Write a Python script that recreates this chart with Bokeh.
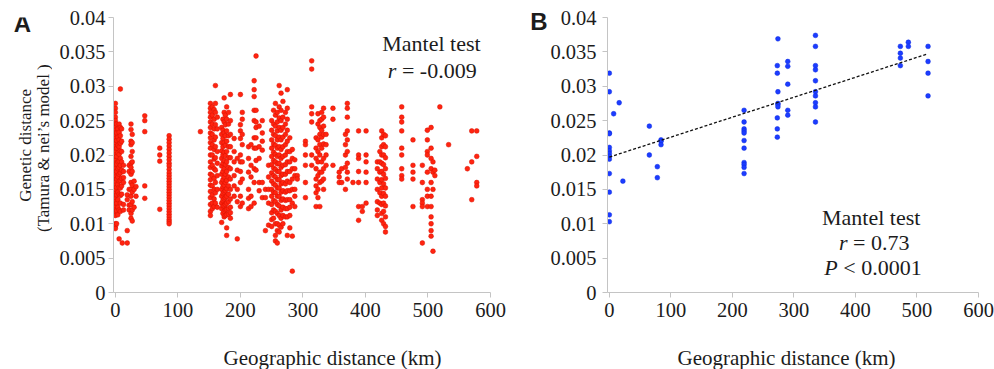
import math
from bokeh.plotting import figure
from bokeh.models import Range1d, FixedTicker, CustomJSTickFormatter, Label, LinearAxis
from bokeh.layouts import row, column
from bokeh.embed import file_html
from bokeh.resources import INLINE

# ---------------- data ----------------
x_ticks = [0, 100, 200, 300, 400, 500, 600]
y_ticks = [0, 0.005, 0.01, 0.015, 0.02, 0.025, 0.03, 0.035, 0.04]

# Panel A: geographic distance (km) columns and genetic distances in each column
a_km = [0, 2, 4, 6, 8, 10, 11, 13, 19, 22, 25, 27, 30, 33, 47, 71, 86, 136,
        152, 155, 158, 160, 163, 170, 172, 174, 176, 178, 181, 184, 190, 195, 200, 203,
        213, 217, 222, 225, 230, 235, 240, 245, 250, 253, 256, 259, 262, 265, 268, 272,
        275, 279, 283, 287, 291, 304, 314, 321, 324, 327, 330, 333, 337, 348, 358, 362,
        368, 371, 380, 389, 395, 401, 419, 423, 426, 429, 432, 458, 476, 491, 499, 505,
        508, 511, 519, 533, 563, 570, 578]
a_gd = [
    [0.0275, 0.0268, 0.0262, 0.0255, 0.0250, 0.0245, 0.0240, 0.0236, 0.0232, 0.0228, 0.0224, 0.0220,
     0.0216, 0.0212, 0.0208, 0.0204, 0.0200, 0.0196, 0.0192, 0.0188, 0.0184, 0.0180, 0.0176, 0.0172,
     0.0168, 0.0164, 0.0160, 0.0156, 0.0152, 0.0148, 0.0144, 0.0140, 0.0136, 0.0132, 0.0128, 0.0124,
     0.0120, 0.0116, 0.0112, 0.0100, 0.0096, 0.0093],
    [0.0245, 0.0232, 0.0221, 0.0210, 0.0198, 0.0187, 0.0176, 0.0165, 0.0153, 0.0142, 0.0130, 0.0119, 0.0100],
    [0.0238, 0.0226, 0.0214, 0.0203, 0.0190, 0.0180, 0.0168, 0.0157, 0.0146, 0.0135, 0.0124, 0.0113],
    [0.0245, 0.0233, 0.0222, 0.0212, 0.0201, 0.0191, 0.0182, 0.0172, 0.0162, 0.0153, 0.0143, 0.0120, 0.0078],
    [0.0296, 0.0240, 0.0228, 0.0217, 0.0206, 0.0195, 0.0185, 0.0174, 0.0163, 0.0152, 0.0141, 0.0130, 0.0118],
    [0.0238, 0.0220, 0.0205, 0.0190, 0.0178, 0.0166, 0.0155, 0.0143],
    [0.0072],
    [0.0185, 0.0176, 0.0167, 0.0160, 0.0128, 0.0120],
    [0.0142, 0.0135, 0.0090, 0.0072],
    [0.0185, 0.0176, 0.0150, 0.0127, 0.0120],
    [0.0245, 0.0237, 0.0220, 0.0215, 0.0198, 0.0188, 0.0182, 0.0172, 0.0160, 0.0150, 0.0140, 0.0128, 0.0115, 0.0108],
    [0.0230, 0.0218, 0.0205, 0.0190, 0.0176, 0.0156, 0.0146, 0.0132, 0.0120, 0.0104],
    [0.0162, 0.0150, 0.0124],
    [0.0154, 0.0140],
    [0.0257, 0.0250, 0.0234, 0.0155, 0.0137],
    [0.0210, 0.0200, 0.0191, 0.0121],
    [0.0228, 0.0223, 0.0218, 0.0213, 0.0208, 0.0203, 0.0198, 0.0193, 0.0188, 0.0184, 0.0179, 0.0174,
     0.0170, 0.0166, 0.0162, 0.0158, 0.0154, 0.0150, 0.0146, 0.0142, 0.0138, 0.0134, 0.0130, 0.0126,
     0.0122, 0.0118, 0.0114, 0.0110, 0.0106, 0.0103, 0.0100],
    [0.0234],
    [0.0275, 0.0268, 0.0262, 0.0255, 0.0248, 0.0240, 0.0232, 0.0225, 0.0218, 0.0210, 0.0200, 0.0190,
     0.0182, 0.0172, 0.0164, 0.0156, 0.0147, 0.0138, 0.0128, 0.0118, 0.0112],
    [0.0270, 0.0258, 0.0245, 0.0230, 0.0215, 0.0200, 0.0185, 0.0170, 0.0155, 0.0142, 0.0130, 0.0122],
    [0.0266, 0.0252, 0.0238, 0.0222, 0.0208, 0.0194, 0.0180, 0.0166, 0.0150, 0.0136, 0.0125],
    [0.0301, 0.0275, 0.0262, 0.0244, 0.0226, 0.0212, 0.0196, 0.0178, 0.0160, 0.0145, 0.0130],
    [0.0255, 0.0238, 0.0205, 0.0188, 0.0170, 0.0150, 0.0124],
    [0.0240, 0.0230, 0.0218, 0.0206, 0.0195, 0.0184, 0.0172, 0.0160, 0.0150, 0.0140, 0.0130, 0.0122, 0.0102],
    [0.0252, 0.0236, 0.0224, 0.0212, 0.0200, 0.0188, 0.0176, 0.0164, 0.0154, 0.0144, 0.0134, 0.0126, 0.0115],
    [0.0283, 0.0262, 0.0248, 0.0232, 0.0218, 0.0204, 0.0192, 0.0180, 0.0168, 0.0156, 0.0146, 0.0136,
     0.0126, 0.0118, 0.0110],
    [0.0258, 0.0244, 0.0228, 0.0214, 0.0199, 0.0186, 0.0172, 0.0160, 0.0148, 0.0138, 0.0128, 0.0120, 0.0112],
    [0.0270, 0.0252, 0.0235, 0.0220, 0.0205, 0.0190, 0.0176, 0.0163, 0.0151, 0.0140, 0.0130, 0.0121,
     0.0113, 0.0094, 0.0083],
    [0.0262, 0.0245, 0.0228, 0.0212, 0.0196, 0.0182, 0.0168, 0.0155, 0.0143, 0.0132, 0.0122, 0.0114],
    [0.0288, 0.0250, 0.0230, 0.0212, 0.0196, 0.0180, 0.0165, 0.0150, 0.0136, 0.0124, 0.0116, 0.0108],
    [0.0224, 0.0205, 0.0190, 0.0170, 0.0155, 0.0140],
    [0.0195, 0.0178, 0.0150, 0.0132, 0.0078],
    [0.0288, 0.0244, 0.0235, 0.0224, 0.0200, 0.0190, 0.0176, 0.0160, 0.0140, 0.0125],
    [0.0262, 0.0252, 0.0230, 0.0215, 0.0190, 0.0165, 0.0130],
    [0.0212, 0.0195, 0.0175, 0.0150, 0.0137, 0.0122],
    [0.0215, 0.0185, 0.0168, 0.0140, 0.0125],
    [0.0308, 0.0295, 0.0285, 0.0265, 0.0250, 0.0225, 0.0210, 0.0180, 0.0160, 0.0130],
    [0.0344, 0.0265, 0.0248, 0.0240, 0.0225, 0.0210, 0.0192, 0.0178],
    [0.0242, 0.0212, 0.0195, 0.0160, 0.0148],
    [0.0250, 0.0232, 0.0220, 0.0207, 0.0160, 0.0138],
    [0.0150, 0.0138, 0.0090],
    [0.0185, 0.0168, 0.0150, 0.0130, 0.0098],
    [0.0250, 0.0236, 0.0222, 0.0210, 0.0198, 0.0186, 0.0174, 0.0162, 0.0150, 0.0140, 0.0128, 0.0116, 0.0106, 0.0096],
    [0.0265, 0.0245, 0.0230, 0.0216, 0.0204, 0.0192, 0.0181, 0.0170, 0.0158, 0.0146, 0.0134, 0.0120, 0.0108],
    [0.0275, 0.0258, 0.0242, 0.0228, 0.0214, 0.0201, 0.0190, 0.0179, 0.0168, 0.0156, 0.0145, 0.0132,
     0.0118, 0.0100, 0.0083, 0.0075],
    [0.0262, 0.0248, 0.0235, 0.0222, 0.0210, 0.0198, 0.0187, 0.0176, 0.0164, 0.0152, 0.0140, 0.0128,
     0.0115, 0.0100, 0.0090, 0.0072],
    [0.0301, 0.0270, 0.0254, 0.0240, 0.0226, 0.0212, 0.0200, 0.0188, 0.0176, 0.0164, 0.0152, 0.0140,
     0.0126, 0.0112, 0.0098, 0.0088],
    [0.0290, 0.0265, 0.0250, 0.0236, 0.0222, 0.0208, 0.0195, 0.0182, 0.0170, 0.0158, 0.0146, 0.0134,
     0.0120, 0.0108, 0.0095],
    [0.0278, 0.0255, 0.0240, 0.0226, 0.0212, 0.0198, 0.0185, 0.0172, 0.0160, 0.0148, 0.0136, 0.0124, 0.0112, 0.0100],
    [0.0262, 0.0245, 0.0230, 0.0215, 0.0200, 0.0186, 0.0172, 0.0158, 0.0146, 0.0134, 0.0122, 0.0110],
    [0.0295, 0.0268, 0.0252, 0.0236, 0.0220, 0.0205, 0.0190, 0.0176, 0.0162, 0.0148, 0.0135, 0.0122, 0.0110, 0.0083],
    [0.0225, 0.0205, 0.0190, 0.0176, 0.0160, 0.0148, 0.0135, 0.0124, 0.0112, 0.0094],
    [0.0208, 0.0195, 0.0180, 0.0165, 0.0150, 0.0130, 0.0082, 0.0031],
    [0.0193, 0.0180, 0.0170, 0.0150, 0.0140, 0.0125],
    [0.0170, 0.0165],
    [0.0220, 0.0215, 0.0200, 0.0185, 0.0160, 0.0138],
    [0.0337, 0.0325, 0.0270, 0.0260, 0.0248, 0.0200, 0.0185],
    [0.0225, 0.0210, 0.0195, 0.0180, 0.0165, 0.0155, 0.0145, 0.0125],
    [0.0260, 0.0245, 0.0222, 0.0205, 0.0190, 0.0170, 0.0150, 0.0138],
    [0.0250, 0.0240, 0.0230, 0.0215, 0.0200, 0.0175, 0.0160, 0.0125],
    [0.0262, 0.0252, 0.0236, 0.0226, 0.0210, 0.0190, 0.0175, 0.0162],
    [0.0268, 0.0255, 0.0242, 0.0230, 0.0216, 0.0195, 0.0180, 0.0165, 0.0150],
    [0.0230, 0.0215, 0.0200, 0.0185],
    [0.0268, 0.0252, 0.0185],
    [0.0175, 0.0168, 0.0160],
    [0.0180, 0.0160],
    [0.0230, 0.0215, 0.0200, 0.0182, 0.0150],
    [0.0275, 0.0268, 0.0255, 0.0235, 0.0222, 0.0205, 0.0188, 0.0175, 0.0165],
    [0.0160],
    [0.0235, 0.0200, 0.0195, 0.0176, 0.0160, 0.0125, 0.0105],
    [0.0125, 0.0118],
    [0.0235, 0.0200, 0.0190, 0.0175, 0.0160, 0.0130],
    [0.0190, 0.0180, 0.0165, 0.0150, 0.0132, 0.0120, 0.0112],
    [0.0205, 0.0190, 0.0175, 0.0160, 0.0145, 0.0130],
    [0.0235, 0.0225, 0.0212, 0.0200, 0.0188, 0.0176, 0.0164, 0.0152, 0.0140, 0.0128, 0.0115, 0.0105],
    [0.0230, 0.0215, 0.0200, 0.0186, 0.0172, 0.0158, 0.0144, 0.0130, 0.0118, 0.0100],
    [0.0228, 0.0212, 0.0196, 0.0180, 0.0166, 0.0152, 0.0140, 0.0126, 0.0110, 0.0096, 0.0088],
    [0.0270, 0.0255, 0.0248, 0.0235, 0.0210, 0.0200, 0.0180, 0.0170, 0.0165],
    [0.0222, 0.0185, 0.0175, 0.0165, 0.0125],
    [0.0185, 0.0160, 0.0135, 0.0130, 0.0125, 0.0072],
    [0.0236, 0.0222, 0.0205, 0.0200, 0.0175, 0.0150, 0.0140, 0.0125],
    [0.0240, 0.0210, 0.0195, 0.0180, 0.0160, 0.0140, 0.0125, 0.0110, 0.0100, 0.0090, 0.0082],
    [0.0190, 0.0175, 0.0150, 0.0060],
    [0.0178, 0.0170],
    [0.0270],
    [0.0215],
    [0.0180],
    [0.0235, 0.0190, 0.0135],
    [0.0235, 0.0198, 0.0160, 0.0155],
]

# Panel B
b_km = [0, 0, 0, 0, 0, 0, 0, 0, 0, 0, 0, 0, 0,
        7, 16, 22, 65, 65, 78, 78, 84, 84, 84,
        219, 219, 219, 219, 219, 219, 219, 219, 219, 219, 219,
        273, 273, 273, 273, 273, 274, 274, 274, 274, 274,
        290, 290, 290, 290, 290,
        335, 335, 335, 335, 335, 335, 335, 335, 335, 335,
        473, 473, 473, 473, 486, 486, 518, 518, 518, 518]
b_gd = [0.0319, 0.0292, 0.0232, 0.0231, 0.0211, 0.0206, 0.0202, 0.0198, 0.0194, 0.0173, 0.0146, 0.0113, 0.0103,
        0.0260, 0.0276, 0.0162, 0.0242, 0.0200, 0.0183, 0.0167, 0.0222, 0.0220, 0.0215,
        0.0265, 0.0248, 0.0238, 0.0235, 0.0232, 0.0221, 0.0210, 0.0189, 0.0186, 0.0182, 0.0173,
        0.0330, 0.0319, 0.0254, 0.0238, 0.0226, 0.0369, 0.0292, 0.0275, 0.0273, 0.0270,
        0.0336, 0.0329, 0.0303, 0.0265, 0.0258,
        0.0374, 0.0358, 0.0330, 0.0324, 0.0308, 0.0292, 0.0286, 0.0276, 0.0270, 0.0248,
        0.0358, 0.0348, 0.0341, 0.0330, 0.0364, 0.0358, 0.0358, 0.0336, 0.0319, 0.0286]
b_fit_range = [0, 518]
b_fit_intercept = 0.0197
b_fit_slope = 0.0000290

SERIF = "Liberation Serif"
TXT = "#1c1c1c"
H = 339          # height of the panel row
HB = 30          # height of the strip that carries the x-axis titles
TOP, BOT = 17, H - 17 - 275


def make_fig(width, left, right, standoff):
    p = figure(width=width, height=H, x_range=Range1d(-3, 600), y_range=Range1d(0, 0.04),
               output_backend="svg", toolbar_location=None, title=None,
               min_border_left=left, min_border_right=right, min_border_top=TOP,
               min_border_bottom=BOT)
    p.outline_line_color = None
    p.xgrid.visible = False
    p.ygrid.visible = False
    for ax in (p.xaxis[0], p.yaxis[0]):
        ax.axis_line_color = "#c4c4c4"
        ax.major_tick_line_color = "#c4c4c4"
        ax.minor_tick_line_color = None
        ax.major_tick_out = 5
        ax.major_tick_in = 0
        ax.major_label_text_font = SERIF
        ax.major_label_text_font_size = "20.5px"
        ax.major_label_text_color = TXT
        ax.formatter = CustomJSTickFormatter(code="return String(tick);")
    p.xaxis[0].ticker = FixedTicker(ticks=x_ticks)
    p.yaxis[0].ticker = FixedTicker(ticks=y_ticks)
    p.xaxis[0].major_label_standoff = 5
    p.yaxis[0].major_label_standoff = standoff
    return p


def lab(p, x, y, text, size, align="center", style="normal", font=SERIF, angle=0.0):
    p.add_layout(Label(x=x, y=y, text=text, text_font=font, text_font_size=size,
                       text_font_style=style, text_color=TXT, text_align=align,
                       text_baseline="middle", angle=angle))


# ---------------- left strip: panel letter A and y-axis title ----------------
pl = figure(width=52, height=H, x_range=Range1d(0, 52), y_range=Range1d(0, 0.04),
            output_backend="svg", toolbar_location=None, title=None,
            x_axis_location=None, y_axis_location=None,
            min_border_left=0, min_border_right=0, min_border_top=TOP, min_border_bottom=BOT)
pl.outline_line_color = None
pl.grid.visible = False
lab(pl, 22, 0.0391, "A", "24px", style="bold", font="Liberation Sans")
lab(pl, 25, 0.0214, "Genetic distance", "17px", angle=math.pi / 2)
lab(pl, 43, 0.0210, "(Tamura & nei\u2019s model )", "17px", angle=math.pi / 2)

# ---------------- Panel A ----------------
pa = make_fig(475, 61, 37, 3)
ax_list, ay_list = [], []
for km, vals in zip(a_km, a_gd):
    for v in vals:
        ax_list.append(km)
        ay_list.append(v)
pa.scatter(ax_list, ay_list, size=4.8, marker="circle", fill_color="#ff2410",
           line_color="#d81000", line_width=0.5)
lab(pa, 505.6, 0.0362, "Mantel test", "22px")
lab(pa, 449.5, 0.0323, "r", "22px", align="right", style="italic")
lab(pa, 449.5, 0.0323, "\u00a0= -0.009", "22px", align="left")

# ---------------- Panel B ----------------
pb = make_fig(467, 74, 16, 6)
pb.scatter(b_km, b_gd, size=4.8, marker="circle", fill_color="#1c3cff",
           line_color="#0a2ae0", line_width=0.5)
fit_y = [b_fit_intercept + b_fit_slope * x for x in b_fit_range]
pb.line(b_fit_range, fit_y, line_color="#111111", line_width=1.3, line_dash="3 2")
b_axis = LinearAxis(ticker=FixedTicker(ticks=[0.0394]),
                    formatter=CustomJSTickFormatter(code="return 'B';"),
                    axis_line_color=None, major_tick_line_color=None, minor_tick_line_color=None,
                    major_tick_out=0, major_tick_in=0, major_label_standoff=0,
                    major_label_text_font="Liberation Sans", major_label_text_font_size="24px",
                    major_label_text_font_style="bold", major_label_text_color=TXT)
pb.add_layout(b_axis, "left")
lab(pb, 425.6, 0.0109, "Mantel test", "22px")
lab(pb, 387.2, 0.00727, "r", "22px", align="right", style="italic")
lab(pb, 387.2, 0.00727, "\u00a0= 0.73", "22px", align="left")
lab(pb, 371.2, 0.00364, "P", "22px", align="right", style="italic")
lab(pb, 371.2, 0.00364, "\u00a0< 0.0001", "22px", align="left")

# ---------------- bottom strip: x-axis titles ----------------
pbot = figure(width=994, height=HB, x_range=Range1d(0, 994), y_range=Range1d(0, HB),
              output_backend="svg", toolbar_location=None, title=None,
              x_axis_location=None, y_axis_location=None,
              min_border_left=0, min_border_right=0, min_border_top=0, min_border_bottom=0)
pbot.outline_line_color = None
pbot.grid.visible = False
lab(pbot, 332, HB - 18, "Geographic distance (km)", "21px")
lab(pbot, 786, HB - 18, "Geographic distance (km)", "21px")

layout = column(row(pl, pa, pb), pbot)
open("out.html", "w").write(file_html(layout, INLINE))
